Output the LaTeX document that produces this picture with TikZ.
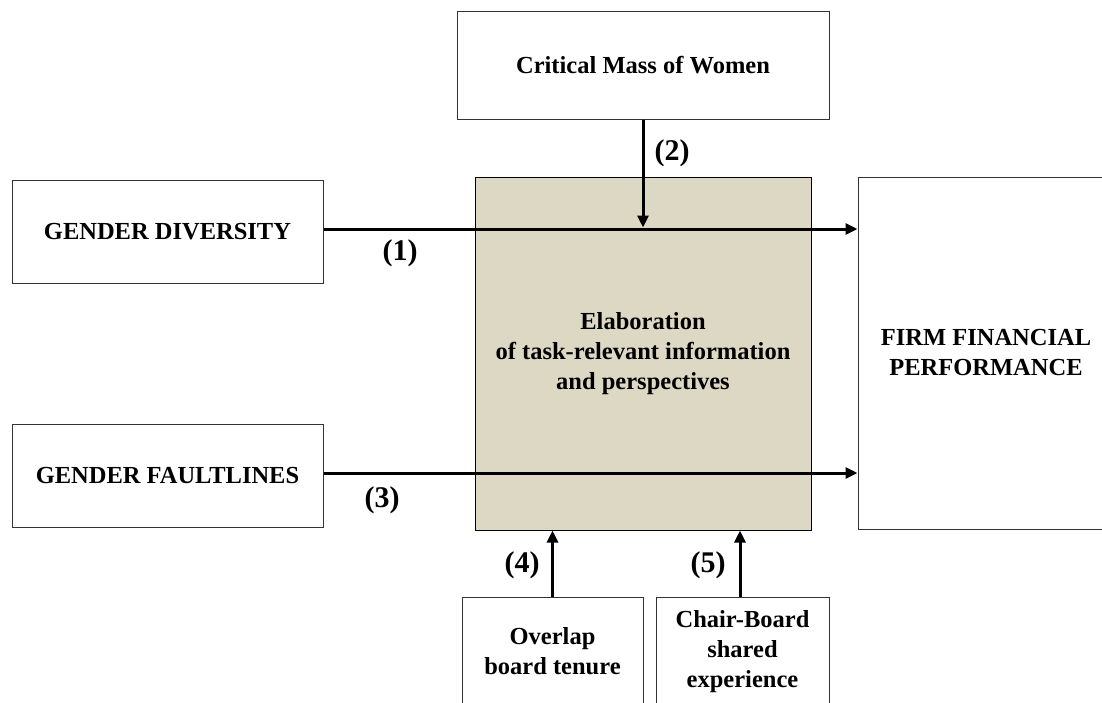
\documentclass[tikz,border=0pt]{standalone}
\usepackage{fontspec}
\setmainfont{Liberation Serif}
\usetikzlibrary{arrows.meta}

\definecolor{elabfondo}{HTML}{DDD8C4}

\tikzset{
  caja/.style={draw=black!80, line width=1pt, align=center, inner sep=0pt,
    font=\fontsize{24.5}{30}\selectfont\bfseries},
  flecha/.style={-{Triangle[length=12pt,width=11pt]}, line width=3pt},
  etiqueta/.style={font=\fontsize{30}{34}\selectfont\bfseries}
}

\begin{document}
\begin{tikzpicture}[x=1pt, y=-1pt]

  \useasboundingbox (0,0) rectangle (1102,702);

  % --- Cajas ---
  \node[caja, minimum width=372pt, minimum height=108pt] (masa) at (643,65)
    {Critical Mass of Women};
  \node[caja, minimum width=311pt, minimum height=103pt] (diversidad) at (167.5,231.5)
    {GENDER DIVERSITY};
  \node[caja, minimum width=311pt, minimum height=103pt] (fallas) at (167.5,475.5)
    {GENDER FAULTLINES};
  \node[caja, fill=elabfondo, draw=black, minimum width=336pt, minimum height=353pt]
    (elab) at (643,353.5)
    {Elaboration\\of task-relevant information\\and perspectives};
  \node[caja, minimum width=256pt, minimum height=352pt] (firma) at (986,353)
    {FIRM FINANCIAL\\PERFORMANCE};

  % --- Moderadores inferiores (cortados por el borde) ---
  \node[caja, minimum width=181pt, minimum height=109pt] (solape) at (552.5,651.5)
    {Overlap\\board tenure};
  \node[caja, minimum width=173pt, minimum height=109pt] (presidente) at (742.5,651.5)
    {Chair-Board\\shared\\experience};

  % --- Flechas ---
  \draw[flecha] ([yshift=2.5pt]diversidad.east) -- ([yshift=2.5pt]diversidad.east -| firma.west);
  \draw[flecha] ([yshift=2.5pt]fallas.east) -- ([yshift=2.5pt]fallas.east -| firma.west);
  \draw[flecha, shorten >=4pt] (masa.south) -- (masa.south |- diversidad.east);
  \draw[flecha] (solape.north) -- (solape.north |- elab.south);
  \draw[flecha] ([xshift=-2.5pt]presidente.north) -- ([xshift=-2.5pt]presidente.north |- elab.south);

  % --- Etiquetas de las relaciones ---
  \node[etiqueta] (e1) at (400,253) {(1)};
  \node[etiqueta] (e2) at (672,153) {(2)};
  \node[etiqueta] (e3) at (382,500) {(3)};
  \node[etiqueta] (e4) at (522,565) {(4)};
  \node[etiqueta] (e5) at (708,565) {(5)};

\end{tikzpicture}
\end{document}
